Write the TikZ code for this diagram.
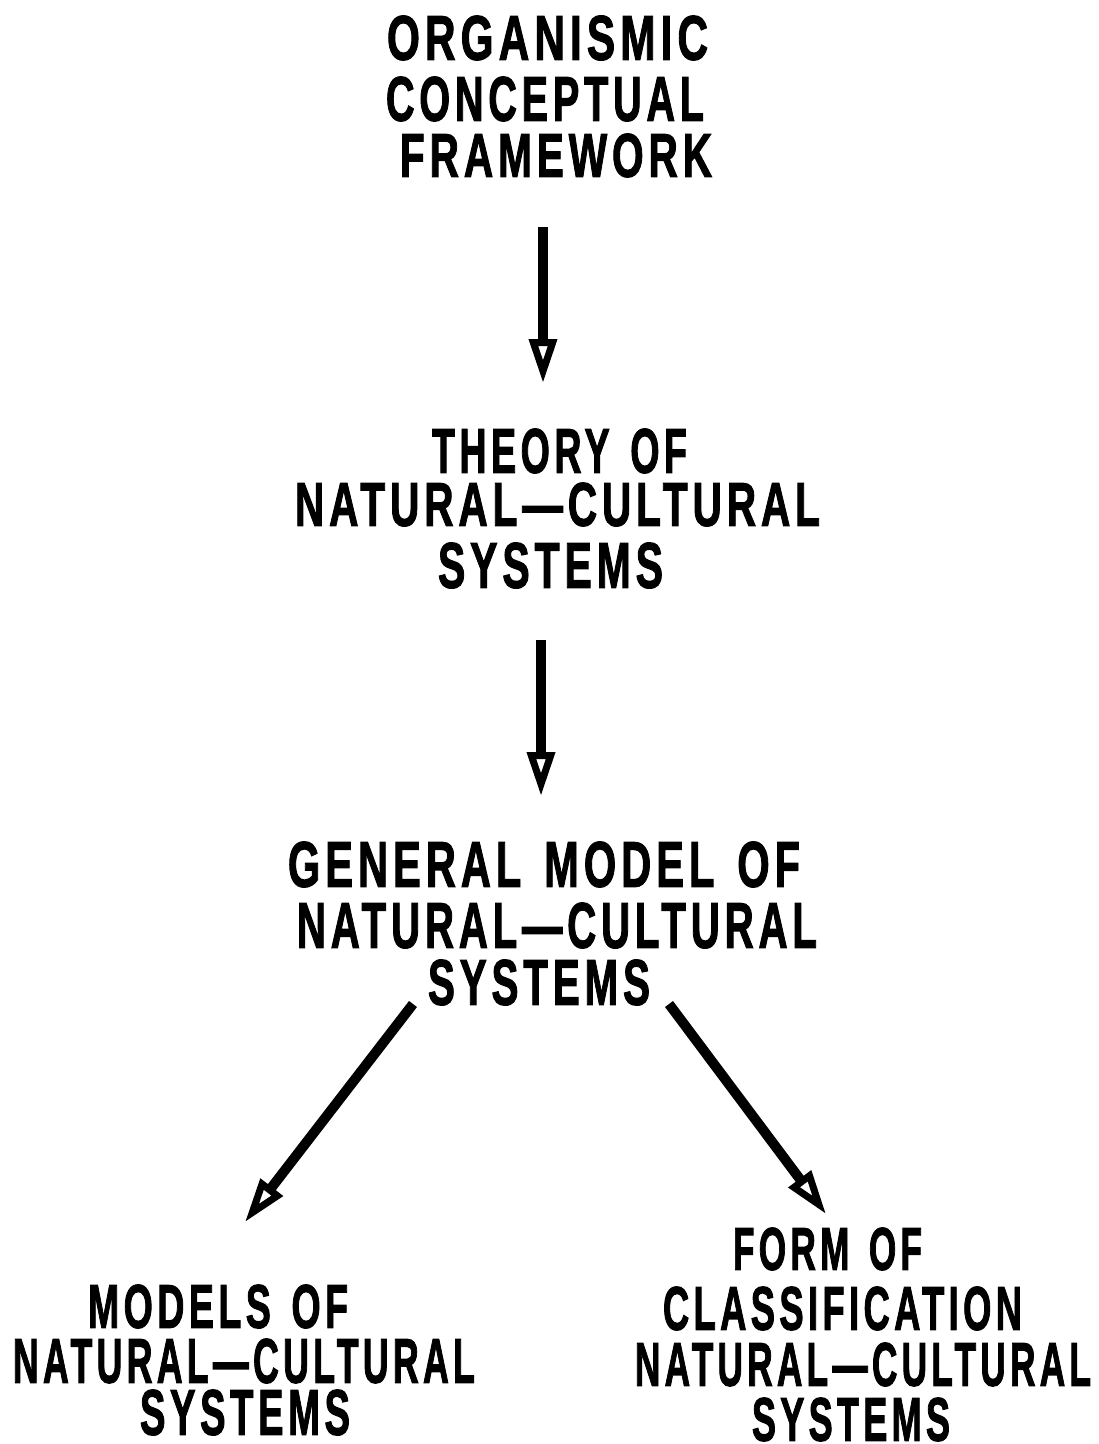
\documentclass[tikz,border=0pt]{standalone}
\usepackage{fontspec}
\usepackage{graphicx}
\usetikzlibrary{arrows.meta}
\newfontfamily\labfont[LetterSpace=12,FakeBold=2]{Liberation Sans}
\newcommand\lbl[3]{\resizebox{#1pt}{#2pt}{\labfont\bfseries #3}}
\newcommand\wsp{\hspace{0.55em}}
\tikzset{
  txt/.style={inner sep=0pt, anchor=center},
  bigarrow/.style={line width=10pt, line cap=butt,
    -{Triangle[open, length=44pt, width=27pt, line width=7pt]}},
}
\begin{document}
\begin{tikzpicture}[x=1pt, y=-1pt]
\useasboundingbox (0,0) rectangle (1099,1444);
% block A
\node[txt] (A1) at (547.5,38)  {\lbl{321}{44}{ORGANISMIC}};
\node[txt] (A2) at (545,99)    {\lbl{318}{44}{CONCEPTUAL}};
\node[txt] (A3) at (556,155.5) {\lbl{312}{43}{FRAMEWORK}};
% block B
\node[txt] (B1) at (559.5,451) {\lbl{255}{44}{THEORY\wsp OF}};
\node[txt] (B2) at (557.5,504.5) {\lbl{525}{43}{NATURAL—CULTURAL}};
\node[txt] (B3) at (550.5,565.5) {\lbl{225}{45}{SYSTEMS}};
% block C
\node[txt] (C1) at (544,864.5) {\lbl{512}{45}{GENERAL\wsp MODEL\wsp OF}};
\node[txt] (C2) at (557,925.5) {\lbl{520}{45}{NATURAL—CULTURAL}};
\node[txt] (C3) at (539,982.5) {\lbl{222}{45}{SYSTEMS}};
% block D
\node[txt] (D1) at (218,1306.5) {\lbl{260}{43}{MODELS\wsp OF}};
\node[txt] (D2) at (244,1361)   {\lbl{462}{44}{NATURAL—CULTURAL}};
\node[txt] (D3) at (245,1412.5) {\lbl{210}{45}{SYSTEMS}};
% block E
\node[txt] (E1) at (827.5,1249)  {\lbl{189}{42}{FORM\wsp OF}};
\node[txt] (E2) at (842.5,1308.5) {\lbl{359}{43}{CLASSIFICATION}};
\node[txt] (E3) at (863,1364.5)  {\lbl{456}{43}{NATURAL—CULTURAL}};
\node[txt] (E4) at (851,1419.5)  {\lbl{198}{43}{SYSTEMS}};
% arrow end points
\coordinate (a1s) at (543,227);
\coordinate (a1e) at (543,383);
\coordinate (a2s) at (541,640);
\coordinate (a2e) at (541,796);
\coordinate (a3s) at (413,1004);
\coordinate (a3e) at (245,1222);
\coordinate (a4s) at (669,1004);
\coordinate (a4e) at (826,1214);
\draw[bigarrow] (a1s) -- (a1e);
\draw[bigarrow] (a2s) -- (a2e);
\draw[bigarrow] (a3s) -- (a3e);
\draw[bigarrow] (a4s) -- (a4e);
\end{tikzpicture}
\end{document}
